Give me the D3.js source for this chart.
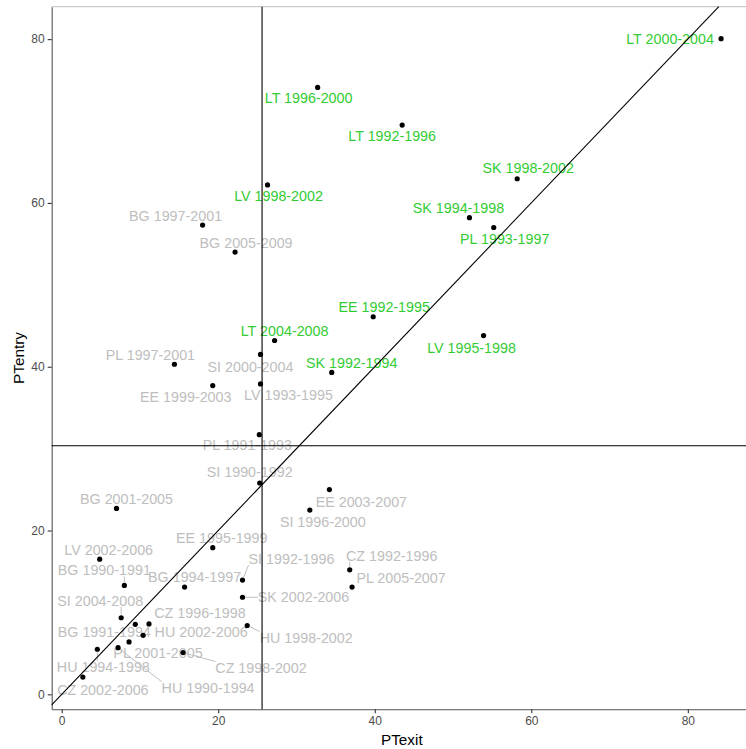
<!DOCTYPE html>
<html>
<head>
<meta charset="utf-8">
<script src="https://cdn.jsdelivr.net/npm/d3@7"></script>
<style>
  body { margin: 0; background: #fff; }
  svg { display: block; font-family: "Liberation Sans", Arial, sans-serif; }
</style>
</head>
<body>
<div id="chart"></div>
<script>
// data
const names = [
  'LT 2000-2004', 'LT 1996-2000', 'LT 1992-1996', 'LV 1998-2002', 'SK 1998-2002',
  'SK 1994-1998', 'PL 1993-1997', 'EE 1992-1995', 'LT 2004-2008', 'LV 1995-1998',
  'SK 1992-1994', 'BG 1997-2001', 'BG 2005-2009', 'PL 1997-2001', 'EE 1999-2003',
  'SI 2000-2004', 'LV 1993-1995', 'PL 1991-1993', 'SI 1990-1992', 'BG 2001-2005',
  'EE 2003-2007', 'SI 1996-2000', 'EE 1995-1999', 'LV 2002-2006', 'BG 1990-1991',
  'BG 1994-1997', 'SI 1992-1996', 'CZ 1992-1996', 'PL 2005-2007', 'SK 2002-2006',
  'SI 2004-2008', 'CZ 1996-1998', 'HU 2002-2006', 'BG 1991-1994', 'PL 2001-2005',
  'HU 1994-1998', 'CZ 2002-2006', 'HU 1990-1994', 'CZ 1998-2002', 'HU 1998-2002'
];
const ptExit = [
  84.25, 32.7, 43.5, 26.3, 58.2,
  52.1, 55.2, 39.8, 27.2, 53.9,
  34.5, 18.0, 22.15, 14.4, 19.3,
  25.4, 25.4, 25.25, 25.3, 7.0,
  34.2, 31.7, 19.3, 4.85, 8.0,
  15.7, 23.1, 36.8, 37.1, 23.1,
  7.6, 11.15, 10.4, 9.4, 8.6,
  4.55, 2.7, 7.2, 15.5, 23.7
];
const ptEntry = [
  80.05, 74.1, 69.5, 62.2, 62.95,
  58.2, 57.0, 46.1, 43.2, 43.8,
  39.3, 57.3, 54.0, 40.3, 37.7,
  41.5, 37.9, 31.7, 25.8, 22.7,
  25.0, 22.5, 17.9, 16.5, 13.3,
  13.1, 13.95, 15.2, 13.1, 11.85,
  9.35, 8.6, 7.2, 8.55, 6.4,
  5.5, 2.1, 5.7, 5.1, 8.4
];
const xTicks = [0, 20, 40, 60, 80];
const yTicks = [0, 20, 40, 60, 80];
const vCut = 25.6;
const hCut = 30.35;

// label placement (pixel offset from point, draw a segment or not)
const labelPos = {
  'LT 2000-2004': [-51, 0], 'LT 1996-2000': [-9, 11], 'LT 1992-1996': [-10, 11],
  'LV 1998-2002': [11, 11], 'SK 1998-2002': [11, -11], 'SK 1994-1998': [-11, -10],
  'PL 1993-1997': [11, 12], 'EE 1992-1995': [11, -10], 'LT 2004-2008': [10, -10],
  'LV 1995-1998': [-12, 12], 'SK 1992-1994': [20, -9], 'BG 1997-2001': [-27, -9],
  'BG 2005-2009': [11, -9], 'PL 1997-2001': [-24, -9], 'EE 1999-2003': [-27, 11],
  'SI 2000-2004': [-10, 13], 'LV 1993-1995': [28, 11], 'PL 1991-1993': [-12, 10.5],
  'SI 1990-1992': [-10, -11], 'BG 2001-2005': [10, -9], 'EE 2003-2007': [32, 12],
  'SI 1996-2000': [13, 12], 'EE 1995-1999': [9, -10], 'LV 2002-2006': [9, -9],
  'BG 1990-1991': [-20, -15, true], 'BG 1994-1997': [10, -10],
  'SI 1992-1996': [49, -21, true], 'CZ 1992-1996': [42, -14, true],
  'PL 2005-2007': [49, -9], 'SK 2002-2006': [61, 0, true],
  'SI 2004-2008': [-21, -17, true], 'CZ 1996-1998': [51, -11],
  'HU 2002-2006': [58, -3], 'BG 1991-1994': [-31, 8], 'PL 2001-2005': [29, 11],
  'HU 1994-1998': [6, 18, true], 'CZ 2002-2006': [20, 13],
  'HU 1990-1994': [90, 40, true], 'CZ 1998-2002': [78, 15, true],
  'HU 1998-2002': [59, 12, true]
};

const points = names.map((n, i) => ({ name: n, x: ptExit[i], y: ptEntry[i] }));

const W = 746, H = 749;
const panel = { left: 51.7, right: 752, top: 6.7, bottom: 709.3 };

const svg = d3.select('#chart').append('svg')
  .attr('width', W)
  .attr('height', H);

const x = d3.scaleLinear().domain([-1.28, 88.2]).range([panel.left, panel.right]);
const y = d3.scaleLinear().domain([-1.83, 83.96]).range([panel.bottom, panel.top]);

// top border of panel
svg.append('line')
  .attr('x1', panel.left).attr('x2', panel.right)
  .attr('y1', panel.top).attr('y2', panel.top)
  .attr('stroke', '#bdbdbd').attr('stroke-width', 1);

// axes
const xAxis = svg.append('g')
  .attr('transform', `translate(0,${panel.bottom})`)
  .call(d3.axisBottom(x).tickValues(xTicks).tickSize(4).tickPadding(3).tickSizeOuter(0));
const yAxis = svg.append('g')
  .attr('transform', `translate(${panel.left},0)`)
  .call(d3.axisLeft(y).tickValues(yTicks).tickSize(4).tickPadding(3).tickSizeOuter(0));

[xAxis, yAxis].forEach(g => {
  g.select('.domain').attr('stroke', '#555').attr('stroke-width', 1.1);
  g.selectAll('.tick line').attr('stroke', '#333').attr('stroke-width', 1.1);
  g.selectAll('.tick text').attr('fill', '#4d4d4d').style('font-size', '12px')
    .style('font-family', '"Liberation Sans", Arial, sans-serif');
});

// axis titles
svg.append('text')
  .attr('x', (panel.left + panel.right) / 2).attr('y', 739)
  .attr('text-anchor', 'middle').attr('dominant-baseline', 'central')
  .style('font-size', '15.3px').text('PTexit');
svg.append('text')
  .attr('transform', `translate(18,${(panel.top + panel.bottom) / 2}) rotate(-90)`)
  .attr('text-anchor', 'middle').attr('dominant-baseline', 'central')
  .style('font-size', '15.3px').text('PTentry');

const plot = svg.append('g');

// labels first, lines drawn over them as in the reference
const segs = plot.append('g');
const labels = plot.append('g').selectAll('text')
  .data(points)
  .enter()
  .append('text')
  .attr('x', d => x(d.x) + labelPos[d.name][0])
  .attr('y', d => y(d.y) + labelPos[d.name][1])
  .attr('text-anchor', 'middle')
  .attr('dominant-baseline', 'central')
  .attr('fill', d => (d.x > vCut && d.y > hCut) ? '#33cc33' : '#bebebe')
  .style('font-size', '14.3px')
  .text(d => d.name);

labels.each(function (d) {
  if (!labelPos[d.name][2]) return;
  const b = this.getBBox();
  const px = x(d.x), py = y(d.y);
  const cx = Math.max(b.x, Math.min(px, b.x + b.width));
  const cy = Math.max(b.y + 2, Math.min(py, b.y + b.height - 2));
  const len = Math.hypot(cx - px, cy - py);
  if (len < 4) return;
  const k = 3 / len;
  segs.append('line')
    .attr('x1', px + (cx - px) * k).attr('y1', py + (cy - py) * k)
    .attr('x2', cx).attr('y2', cy)
    .attr('stroke', '#bebebe').attr('stroke-width', 1);
});

// reference lines
plot.append('line')
  .attr('x1', x(vCut)).attr('x2', x(vCut))
  .attr('y1', panel.top).attr('y2', panel.bottom)
  .attr('stroke', '#000').attr('stroke-width', 1.1);
plot.append('line')
  .attr('x1', panel.left).attr('x2', panel.right)
  .attr('y1', y(hCut)).attr('y2', y(hCut))
  .attr('stroke', '#000').attr('stroke-width', 1.1);

// 45 degree line y = x, clipped to the panel
const lo = Math.max(x.domain()[0], y.domain()[0]);
const hi = Math.min(x.domain()[1], y.domain()[1]);
plot.append('line')
  .attr('x1', x(lo)).attr('y1', y(lo))
  .attr('x2', x(hi)).attr('y2', y(hi))
  .attr('stroke', '#000').attr('stroke-width', 1.1);

plot.append('g').selectAll('circle')
  .data(points)
  .enter()
  .append('circle')
  .attr('cx', d => x(d.x))
  .attr('cy', d => y(d.y))
  .attr('r', 2.6)
  .attr('fill', '#000');
</script>
</body>
</html>
